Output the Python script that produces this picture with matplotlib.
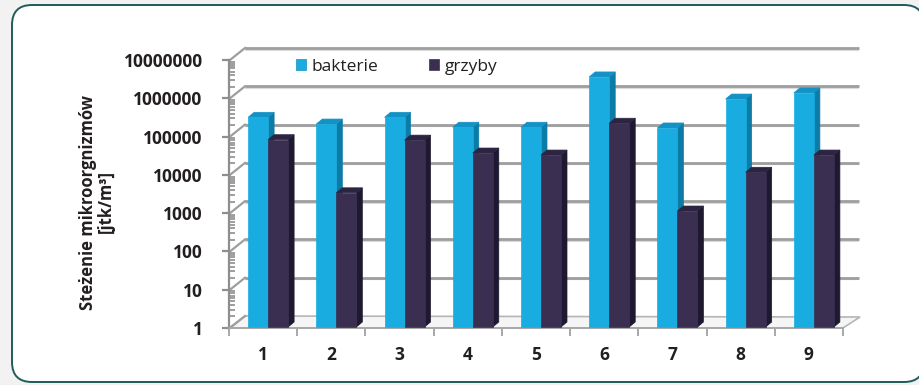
import numpy as np
import matplotlib
matplotlib.use("Agg")
import matplotlib.pyplot as plt
from matplotlib.patches import FancyBboxPatch, Polygon, Patch

# ---- data ----
categories = ["1", "2", "3", "4", "5", "6", "7", "8", "9"]
bakterie = [300000, 200000, 300000, 165000, 165000, 3400000, 158000, 900000, 1300000]
grzyby = [78000, 3200, 76000, 35000, 31000, 210000, 1070, 11000, 31000]
ytick_values = [1, 10, 100, 1000, 10000, 100000, 1000000, 10000000]
ytick_labels = ["1", "10", "100", "1000", "10000", "100000", "1000000", "10000000"]
series_names = ["bakterie", "grzyby"]

# ---- styles ----
FONT = ["Open Sans", "DejaVu Sans"]
face_cols = ["#19ace0", "#3a2f50"]
side_cols = ["#0c7ba6", "#1e1830"]
top_cols = ["#1392c6", "#2c2440"]
grid_col = "#9e9e9e"
axis_col = "#8e8e8e"

W, H = 920, 385
fig = plt.figure(figsize=(W / 100, H / 100), dpi=100)
fig.patch.set_facecolor("#f2f2f2")

# rounded frame
box = FancyBboxPatch((0.12, 0.03), 9.12, 3.77,
                     boxstyle="round,pad=0,rounding_size=0.2",
                     transform=fig.dpi_scale_trans, facecolor="white",
                     edgecolor="#1d5c58", linewidth=1.4, zorder=-10)
fig.patches.append(box)

ax_l, ax_r, ax_b, ax_t = 229, 843, 328, 60
ax = fig.add_axes([ax_l / W, 1 - ax_b / H, (ax_r - ax_l) / W, (ax_b - ax_t) / H])
ax.set_facecolor("none")
ax.set_zorder(5)
ax.set_yscale("log")
n = len(categories)
ax.set_xlim(0.5, n + 0.5)
ax.set_ylim(1, 1e7)

PXX = (ax_r - ax_l) / n          # pixels per x unit
PXY = (ax_b - ax_t) / 7.0        # pixels per decade


def dx(px):
    return px / PXX


def fy(px):
    return 10 ** (px / PXY)


WX, WY = 16, 12     # back wall offset (px)
BX, BY = 5, 1       # bar placement offset (px)
DX, DY = 6, 5       # bar depth (px)

# floor
x0f, x1f = 0.5, n + 0.5
floor = Polygon([(x0f, 1), (x1f, 1), (x1f + dx(WX + 1), fy(WY - 1)), (x0f + dx(WX), fy(WY))],
                closed=True, facecolor="#f5f5f5", edgecolor="#b5b5b5", lw=1.2,
                clip_on=False, zorder=1)
ax.add_patch(floor)

# back-wall gridlines and diagonals
for v in ytick_values:
    if v > 1:
        ax.plot([x0f + dx(WX), x1f + dx(WX)], [v * fy(WY - 1.5)] * 2, color="#dcdcdc",
                lw=1.6, clip_on=False, zorder=1.5, solid_capstyle="butt")
        ax.plot([x0f + dx(WX), x1f + dx(WX)], [v * fy(WY)] * 2, color=grid_col,
                lw=2.0, clip_on=False, zorder=2, solid_capstyle="butt")
    ax.plot([x0f + dx(1), x0f + dx(WX)], [v, v * fy(WY)], color=grid_col,
            lw=1.6, clip_on=False, zorder=2)

# 3D-looking bars
bw = dx(20)
z = 5
for i in range(n):
    for s, vals in enumerate([bakterie, grzyby]):
        v = vals[i]
        xa = (i + 1) + (-bw if s == 0 else 0) + dx(BX)
        xb = xa + bw
        base = fy(BY)
        top = v * fy(BY)
        side = Polygon([(xb, base), (xb, top), (xb + dx(DX), top * fy(DY)),
                        (xb + dx(DX), base * fy(DY))], closed=True,
                       facecolor=side_cols[s], edgecolor=side_cols[s], lw=0.5,
                       zorder=z, clip_on=False)
        ax.add_patch(side)
        topf = Polygon([(xa, top), (xb, top), (xb + dx(DX), top * fy(DY)),
                        (xa + dx(DX), top * fy(DY))], closed=True,
                       facecolor=top_cols[s], edgecolor=top_cols[s], lw=0.5,
                       zorder=z, clip_on=False)
        ax.add_patch(topf)
        ax.bar(xa, top - base, bottom=base, width=bw, align="edge",
               color=face_cols[s], edgecolor=face_cols[s], lw=0.5,
               zorder=z + 0.5, clip_on=False)
        z += 1

# axes styling
for sp in ["top", "right"]:
    ax.spines[sp].set_visible(False)
ax.spines["left"].set_color(axis_col)
ax.spines["left"].set_linewidth(1.6)
ax.spines["bottom"].set_color("#a8a8a8")
ax.spines["bottom"].set_linewidth(1.4)
ax.spines["left"].set_zorder(3)
ax.spines["bottom"].set_zorder(3)

ax.set_yticks(ytick_values)
ax.set_yticklabels(ytick_labels)
ax.yaxis.set_minor_locator(matplotlib.ticker.LogLocator(base=10, subs=np.arange(2, 10), numticks=20))
ax.yaxis.set_minor_formatter(matplotlib.ticker.NullFormatter())
ax.tick_params(axis="y", which="major", direction="out", length=5, width=1.6,
               color=axis_col, pad=14)
ax.tick_params(axis="y", which="minor", direction="in", length=4, width=1.2,
               color=axis_col)

ax.set_xticks(np.arange(0.5, n + 1, 1.0))
ax.set_xticklabels([])
ax.set_xticks(np.arange(1, n + 1), minor=True)
ax.set_xticklabels(categories, minor=True)
ax.tick_params(axis="x", which="major", direction="out", length=6, width=1.2,
               color="#9a9a9a")
ax.tick_params(axis="x", which="minor", length=0, pad=13)

for lab in ax.get_yticklabels() + ax.get_xticklabels(minor=True):
    lab.set_fontfamily(FONT)
    lab.set_fontweight("bold")
    lab.set_fontsize(12.5)
    lab.set_color("#231f20")

# y label
fig.text(97 / W, 1 - 202 / H, "Steżenie mikroorgnizmów\n[jtk/m³]", rotation=90,
         ha="center", va="center", multialignment="center", fontsize=12,
         fontweight="bold", family=FONT, color="#231f20", linespacing=0.95)

# legend
handles = [Patch(facecolor=face_cols[0], edgecolor="#1590c0", lw=0.5),
           Patch(facecolor=face_cols[1], edgecolor=face_cols[1], lw=0.5)]
leg = ax.legend(handles, series_names, ncol=2, frameon=False, loc="center left",
                bbox_to_anchor=(296 / W, 1 - 67 / H), bbox_transform=fig.transFigure,
                handlelength=0.6, handleheight=0.6, handletextpad=0.3,
                columnspacing=2.9, borderpad=0, borderaxespad=0,
                prop={"family": FONT, "size": 12.5})
for t in leg.get_texts():
    t.set_color("#231f20")
leg.set_zorder(50)

fig.savefig("out.png", dpi=100, facecolor=fig.get_facecolor())
